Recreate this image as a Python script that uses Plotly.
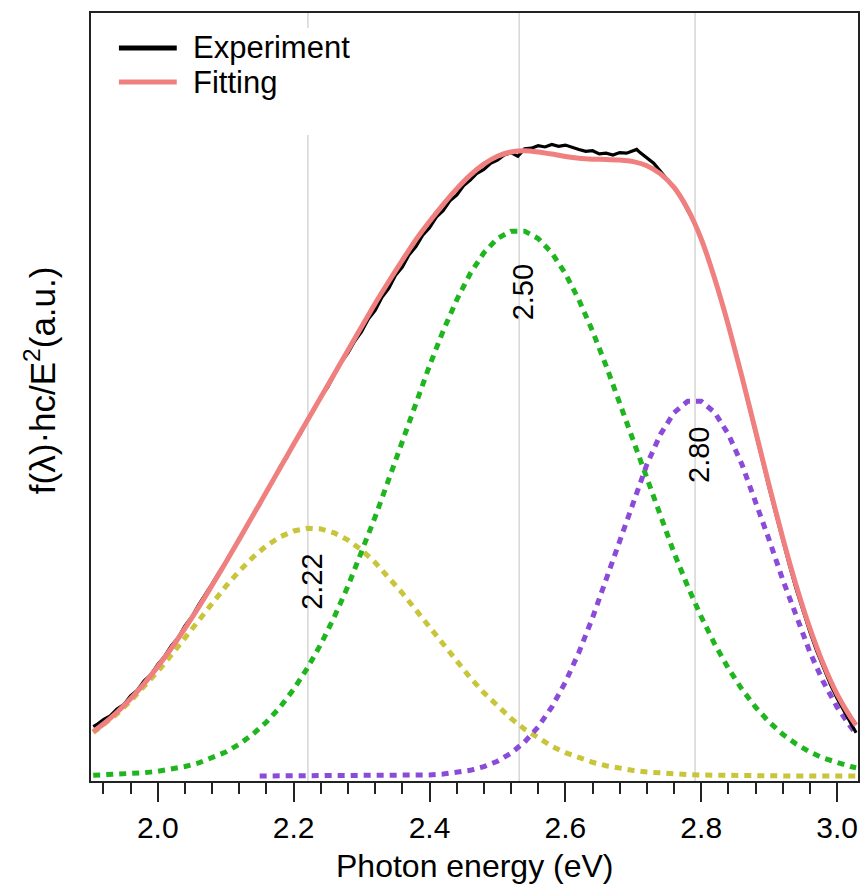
import plotly.graph_objects as go

# ---------------- data ----------------
energy = [1.905, 1.92, 1.94, 1.96, 1.98, 2.00, 2.02, 2.04, 2.06, 2.08, 2.10, 2.12, 2.14, 2.16,
          2.18, 2.20, 2.22, 2.24, 2.26, 2.28, 2.30, 2.32, 2.34, 2.36, 2.38, 2.40, 2.42, 2.44,
          2.46, 2.48, 2.50, 2.52, 2.54, 2.56, 2.58, 2.60, 2.62, 2.64, 2.66, 2.68, 2.70, 2.72,
          2.74, 2.76, 2.78, 2.80, 2.82, 2.84, 2.86, 2.88, 2.90, 2.92, 2.94, 2.96, 2.98, 3.00,
          3.02, 3.028]

fitting = [0.0707, 0.0830, 0.1018, 0.1234, 0.1476, 0.1747, 0.2040, 0.2357, 0.2693, 0.3047,
           0.3412, 0.3784, 0.4162, 0.4541, 0.4921, 0.5300, 0.5677, 0.6052, 0.6427, 0.6803,
           0.7176, 0.7550, 0.7900, 0.8240, 0.8570, 0.8860, 0.9130, 0.9380, 0.9600, 0.9775,
           0.9900, 0.9970, 0.9990, 0.9970, 0.9936, 0.9897, 0.9869, 0.9855, 0.9850, 0.9840,
           0.9815, 0.9750, 0.9620, 0.9404, 0.9060, 0.8580, 0.7940, 0.7200, 0.6375, 0.5510,
           0.4640, 0.3805, 0.3037, 0.2360, 0.1783, 0.1309, 0.0936, 0.0812]

peak_222 = [0.0695, 0.0814, 0.0994, 0.1198, 0.1424, 0.1671, 0.1933, 0.2206, 0.2485, 0.2762,
            0.3029, 0.3275, 0.3495, 0.3679, 0.3821, 0.3915, 0.3958, 0.3947, 0.3883, 0.3770,
            0.3610, 0.3411, 0.3179, 0.2923, 0.2652, 0.2374, 0.2096, 0.1826, 0.1570, 0.1331,
            0.1113, 0.0919, 0.0748, 0.0601, 0.0476, 0.0372, 0.0287, 0.0219, 0.0164, 0.0122,
            0.0089, 0.0064, 0.0046, 0.0032, 0.0022, 0.0015, 0.0010, 0.0007, 0.0004, 0.0003,
            0.0002, 0.0001, 0.0, 0.0, 0.0, 0.0, 0.0, 0.0]

peak_250 = [0.0012, 0.0016, 0.0024, 0.0036, 0.0052, 0.0076, 0.0107, 0.0151, 0.0208, 0.0285,
            0.0383, 0.0509, 0.0667, 0.0862, 0.1100, 0.1385, 0.1719, 0.2105, 0.2544, 0.3033,
            0.3566, 0.4139, 0.4738, 0.5351, 0.5962, 0.6554, 0.7108, 0.7605, 0.8027, 0.8359,
            0.8588, 0.8705, 0.8705, 0.8588, 0.8359, 0.8027, 0.7605, 0.7108, 0.6554, 0.5962,
            0.5351, 0.4738, 0.4139, 0.3566, 0.3033, 0.2544, 0.2105, 0.1719, 0.1385, 0.1100,
            0.0862, 0.0667, 0.0509, 0.0383, 0.0285, 0.0208, 0.0151, 0.0132]

energy_280 = [2.15, 2.16, 2.18, 2.20, 2.22, 2.24, 2.26, 2.28, 2.30, 2.32, 2.34, 2.36, 2.38,
              2.40, 2.42, 2.44, 2.46, 2.48, 2.50, 2.52, 2.54, 2.56, 2.58, 2.60, 2.62, 2.64,
              2.66, 2.68, 2.70, 2.72, 2.74, 2.76, 2.78, 2.80, 2.82, 2.84, 2.86, 2.88, 2.90,
              2.92, 2.94, 2.96, 2.98, 3.00, 3.02, 3.028]
peak_280 = [0.0, 0.0, 0.0, 0.0, 0.0, 0.0, 0.0, 0.0, 0.0, 0.0001, 0.0002, 0.0005, 0.0009,
            0.0017, 0.0031, 0.0054, 0.0091, 0.0149, 0.0236, 0.0364, 0.0543, 0.0785, 0.1101,
            0.1498, 0.1977, 0.2528, 0.3137, 0.3773, 0.4401, 0.4977, 0.5459, 0.5806, 0.5987,
            0.5987, 0.5806, 0.5459, 0.4977, 0.4401, 0.3773, 0.3137, 0.2528, 0.1977, 0.1498,
            0.1101, 0.0785, 0.0680]

energy_exp = [1.905, 1.91, 1.92, 1.93, 1.94, 1.95, 1.96, 1.97, 1.98, 1.99, 2.00, 2.01, 2.02,
              2.03, 2.04, 2.05, 2.06, 2.07, 2.08, 2.09, 2.10, 2.11, 2.12, 2.13, 2.14, 2.15,
              2.16, 2.17, 2.18, 2.19, 2.20, 2.21, 2.22, 2.23, 2.24, 2.25, 2.26, 2.27, 2.28,
              2.29, 2.30, 2.31, 2.32, 2.33, 2.34, 2.35, 2.36, 2.37, 2.38, 2.39, 2.40, 2.41,
              2.42, 2.43, 2.44, 2.45, 2.46, 2.47, 2.48, 2.49, 2.50, 2.51, 2.52, 2.53, 2.54,
              2.55, 2.56, 2.57, 2.58, 2.59, 2.60, 2.61, 2.62, 2.63, 2.64, 2.65, 2.66, 2.67,
              2.68, 2.69, 2.70, 2.705, 2.71, 2.72, 2.73, 2.74, 2.75, 2.76, 2.77, 2.78, 2.79,
              2.80, 2.81, 2.82, 2.83, 2.84, 2.85, 2.86, 2.87, 2.88, 2.89, 2.90, 2.91, 2.92,
              2.93, 2.94, 2.95, 2.96, 2.97, 2.98, 2.99, 3.00, 3.01, 3.02, 3.028]
experiment = [0.079, 0.082, 0.090, 0.096, 0.107, 0.114, 0.128, 0.137, 0.152, 0.162, 0.178,
              0.191, 0.208, 0.221, 0.240, 0.254, 0.273, 0.289, 0.307, 0.325, 0.343, 0.359,
              0.380, 0.396, 0.417, 0.433, 0.455, 0.472, 0.494, 0.509, 0.531, 0.547, 0.569,
              0.585, 0.606, 0.621, 0.641, 0.661, 0.676, 0.695, 0.710, 0.730, 0.744, 0.765,
              0.779, 0.800, 0.813, 0.833, 0.846, 0.864, 0.876, 0.893, 0.903, 0.919, 0.928,
              0.943, 0.952, 0.963, 0.969, 0.979, 0.984, 0.992, 0.996, 0.990, 1.002, 1.003,
              1.007, 1.005, 1.009, 1.006, 1.008, 1.004, 1.001, 0.998, 0.999, 0.994, 0.995,
              0.992, 0.996, 0.995, 0.999, 1.001, 0.996, 0.988, 0.979, 0.966, 0.953, 0.940,
              0.924, 0.905, 0.884, 0.858, 0.829, 0.795, 0.759, 0.719, 0.680, 0.635, 0.593,
              0.548, 0.505, 0.460, 0.418, 0.376, 0.336, 0.298, 0.263, 0.230, 0.200, 0.172,
              0.147, 0.124, 0.104, 0.084, 0.069]

peak_positions = [2.221, 2.532, 2.791]
peak_labels = ["2.22", "2.50", "2.80"]
peak_label_y = [0.31, 0.773, 0.513]

x_ticks = [2.0, 2.2, 2.4, 2.6, 2.8, 3.0]
x_tick_text = ["2.0", "2.2", "2.4", "2.6", "2.8", "3.0"]

legend_names = ["Experiment", "Fitting"]
legend_colors = ["black", "#F08080"]

# ---------------- figure ----------------
FONT = "Liberation Sans, Arial, sans-serif"
W, H = 864, 887
ML, MR, MT, MB = 91, 4, 13, 106
PW, PH = W - ML - MR, H - MT - MB


def px_x(px):
    return (px - ML) / PW


def px_y(py):
    return (H - MB - py) / PH


fig = go.Figure()

fig.add_trace(go.Scatter(x=energy, y=peak_222, mode="lines", showlegend=False,
                         line=dict(color="#C8C53A", width=5, dash="7px,6px")))
fig.add_trace(go.Scatter(x=energy, y=peak_250, mode="lines", showlegend=False,
                         line=dict(color="#1FB51F", width=5, dash="7px,6px")))
fig.add_trace(go.Scatter(x=energy_280, y=peak_280, mode="lines", showlegend=False,
                         line=dict(color="#8A4CD8", width=5, dash="7px,6px")))
fig.add_trace(go.Scatter(x=energy_exp, y=experiment, mode="lines", name="Experiment",
                         showlegend=False, line=dict(color="black", width=3.2)))
fig.add_trace(go.Scatter(x=energy, y=fitting, mode="lines", name="Fitting", showlegend=False,
                         line=dict(color="#F08080", width=5, shape="spline", smoothing=0.6)))

# vertical reference lines at the peak centres
for i, (p, lab, ly) in enumerate(zip(peak_positions, peak_labels, peak_label_y)):
    segs = [(0.0, px_y(135)), (px_y(28), 1.0)] if i == 0 else [(0.0, 1.0)]
    for y0, y1 in segs:
        fig.add_shape(type="line", xref="x", yref="paper", x0=p, x1=p, y0=y0, y1=y1,
                      line=dict(color="#D6D6D6", width=1.5), layer="below")
    fig.add_annotation(x=p, y=ly, xref="x", yref="y", text=lab, showarrow=False,
                       textangle=-90, xshift=4, font=dict(family=FONT, size=29, color="black"))

# legend (drawn inside the top-left corner)
for k, (name, col) in enumerate(zip(legend_names, legend_colors)):
    yy = px_y(48 + 34 * k)
    fig.add_shape(type="line", xref="paper", yref="paper", x0=px_x(119), x1=px_x(177),
                  y0=yy, y1=yy, line=dict(color=col, width=5))
    fig.add_annotation(xref="paper", yref="paper", x=px_x(191), y=yy, text=name,
                       showarrow=False, xanchor="left", yanchor="middle",
                       font=dict(family=FONT, size=31, color="black"))

# y-axis title
fig.add_annotation(xref="paper", yref="paper", x=px_x(40), y=px_y(380),
                   text="f(λ)·hc/E<sup>2</sup>(a.u.)", textangle=-90, showarrow=False,
                   xanchor="center", yanchor="middle",
                   font=dict(family=FONT, size=35, color="black"))

# x-axis title
fig.add_annotation(xref="paper", yref="paper", x=0.5, y=px_y(866),
                   text="Photon energy (eV)", showarrow=False,
                   xanchor="center", yanchor="middle",
                   font=dict(family=FONT, size=32, color="black"))

fig.update_layout(
    width=W, height=H,
    margin=dict(l=ML, r=MR, t=MT, b=MB),
    paper_bgcolor="white", plot_bgcolor="white",
    font=dict(family=FONT, color="black"),
    showlegend=False,
    xaxis=dict(range=[1.9017, 3.0308], showgrid=False, zeroline=False,
               showline=True, linecolor="#222222", linewidth=2, mirror=True,
               ticks="outside", ticklen=19, tickwidth=2, tickcolor="#222222",
               tickvals=x_ticks, ticktext=x_tick_text,
               tickfont=dict(family=FONT, size=30),
               minor=dict(ticks="outside", ticklen=11, tickwidth=2, tickcolor="#222222",
                          dtick=0.04, tick0=2.0, showgrid=False)),
    yaxis=dict(range=[-0.008, 1.219], showgrid=False, zeroline=False,
               showline=True, linecolor="#222222", linewidth=2, mirror=True,
               showticklabels=False, ticks=""),
)

fig.write_html("out.html", config={"displayModeBar": False},
               post_script="document.body.style.margin='0';document.body.style.overflow='hidden';")
